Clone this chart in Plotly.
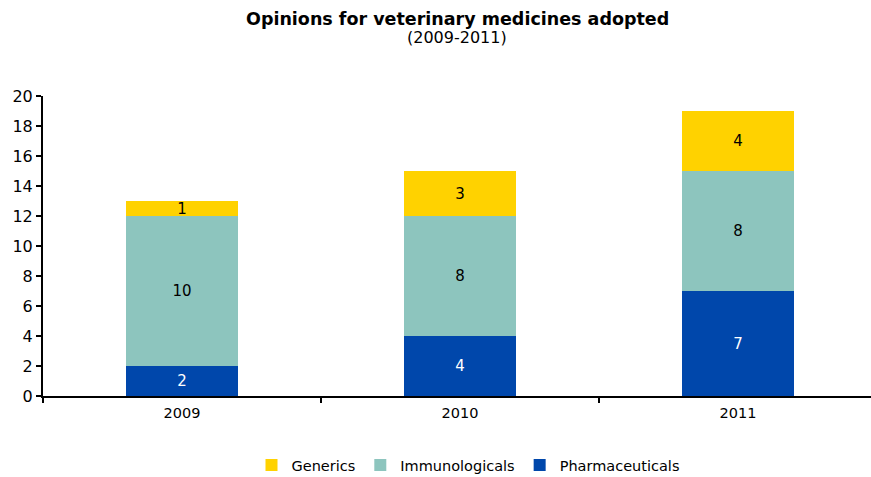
import plotly.graph_objects as go

years = ["2009", "2010", "2011"]
pharmaceuticals = [2, 4, 7]
immunologicals = [10, 8, 8]
generics = [1, 3, 4]
y_ticks = [0, 2, 4, 6, 8, 10, 12, 14, 16, 18, 20]

FONT = "Verdana, DejaVu Sans, sans-serif"

fig = go.Figure()
series = [
    ("Pharmaceuticals", pharmaceuticals, "#0047AB", "white"),
    ("Immunologicals", immunologicals, "#8DC5BE", "black"),
    ("Generics", generics, "#FFD200", "black"),
]
for name, vals, color, tcol in series:
    fig.add_trace(go.Bar(
        x=years, y=vals, name=name,
        marker=dict(color=color, line=dict(width=0)),
        width=0.4,
        text=[str(v) for v in vals],
        textposition="inside",
        insidetextanchor="middle",
        textangle=0,
        constraintext="none",
        textfont=dict(color=tcol, size=15, family=FONT),
        hoverinfo="x+y+name",
    ))

L, R, T, B = 43, 0, 96, 81
W, H = 871, 477
plot_h = H - T - B
plot_w = W - L - R

fig.update_layout(
    barmode="stack",
    width=W, height=H,
    margin=dict(l=L, r=R, t=T, b=B, autoexpand=False),
    paper_bgcolor="white", plot_bgcolor="white",
    font=dict(family=FONT, size=14, color="black"),
    showlegend=True,
    legend=dict(orientation="h", x=(468 - L) / plot_w, xanchor="center",
                y=-(465 - (H - B)) / plot_h, yanchor="middle",
                traceorder="reversed", font=dict(size=14.5, family=FONT),
                itemwidth=30, tracegroupgap=0),
)

def py(pix):
    return (H - B - pix) / plot_h

fig.add_annotation(text="<b>Opinions for veterinary medicines adopted</b>", x=(457 - L) / plot_w,
                   y=py(19), xref="paper", yref="paper", showarrow=False,
                   font=dict(size=17.5, family=FONT), yanchor="middle", xanchor="center")
fig.add_annotation(text="(2009-2011)", x=(457 - L) / plot_w,
                   y=py(38), xref="paper", yref="paper", showarrow=False,
                   font=dict(size=16, family=FONT), yanchor="middle", xanchor="center")

fig.update_xaxes(
    range=[-0.5, -0.5 + plot_w / 278],
    automargin=False,
    showline=True, linecolor="black", linewidth=2,
    ticks="outside", tickson="boundaries", ticklen=5, tickcolor="black", tickwidth=2,
    ticklabelstandoff=3,
    showgrid=False, tickfont=dict(size=14.5, family=FONT),
)
fig.update_yaxes(
    range=[0, 20], tickvals=y_ticks,
    automargin=False,
    showline=True, linecolor="black", linewidth=2,
    ticks="outside", ticklen=5, tickcolor="black", tickwidth=2,
    showgrid=False, zeroline=False, tickfont=dict(size=16, family=FONT),
)

fig.write_html("out.html",
               config={"displayModeBar": False},
               post_script="document.body.style.margin='0';document.body.style.overflow='hidden';")
